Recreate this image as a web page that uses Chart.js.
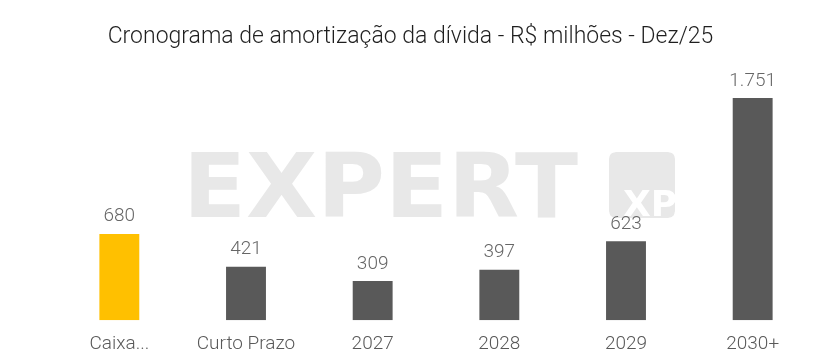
<!DOCTYPE html>
<html>
<head>
<meta charset="utf-8">
<script src="https://cdn.jsdelivr.net/npm/chart.js@4.4.1/dist/chart.umd.min.js"></script>
<style>
html,body{margin:0;padding:0;background:#fff;}
#wrap{width:836px;height:363px;position:relative;}
</style>
</head>
<body>
<div id="wrap"><canvas id="c" width="836" height="363"></canvas></div>
<script>
const categories = ["Caixa...", "Curto Prazo", "2027", "2028", "2029", "2030+"];
const amortization = [680, 421, 309, 397, 623, 1751];
const barColors = ["#FFC000", "#595959", "#595959", "#595959", "#595959", "#595959"];
const chartTitle = "Cronograma de amortização da dívida - R$ milhões - Dez/25";

const FONT = '"Roboto Light", Roboto';

function fmtBR(v) {
  return String(Math.round(v)).replace(/\B(?=(\d{3})+(?!\d))/g, ".");
}

const titlePlugin = {
  id: "customTitle",
  afterDraw(chart) {
    const ctx = chart.ctx;
    ctx.save();
    ctx.fillStyle = "#1f1f1f";
    ctx.font = '300 23px ' + FONT;
    ctx.textAlign = "center";
    ctx.textBaseline = "alphabetic";
    ctx.fillText(chartTitle, 410.5, 42.5);
    ctx.restore();
  }
};

const watermark = {
  id: "watermark",
  beforeDatasetsDraw(chart) {
    const ctx = chart.ctx;
    ctx.save();
    ctx.fillStyle = "#e8e8e8";
    ctx.font = 'bold 100px "DejaVu Sans"';
    ctx.textBaseline = "alphabetic";
    ctx.textAlign = "left";
    const w = ctx.measureText("EXPERT").width;
    ctx.translate(183, 217);
    ctx.scale(395 / w, 65 / 72.9);
    ctx.fillText("EXPERT", 0, 0);
    ctx.restore();
    // XP box
    ctx.save();
    ctx.fillStyle = "#e8e8e8";
    const x = 609, y = 152, s = 66, r = 7;
    ctx.beginPath();
    ctx.moveTo(x + r, y);
    ctx.lineTo(x + s - r, y);
    ctx.quadraticCurveTo(x + s, y, x + s, y + r);
    ctx.lineTo(x + s, y + s - r);
    ctx.quadraticCurveTo(x + s, y + s, x + s - r, y + s);
    ctx.lineTo(x + r, y + s);
    ctx.quadraticCurveTo(x, y + s, x, y + s - r);
    ctx.lineTo(x, y + r);
    ctx.quadraticCurveTo(x, y, x + r, y);
    ctx.closePath();
    ctx.clip();
    ctx.fill();
    ctx.fillStyle = "#ffffff";
    ctx.font = 'bold 36px "DejaVu Sans"';
    ctx.textAlign = "left";
    ctx.fillText("XP", 623, 216);
    ctx.restore();
  }
};

const valueLabels = {
  id: "valueLabels",
  afterDatasetsDraw(chart) {
    const ctx = chart.ctx;
    const meta = chart.getDatasetMeta(0);
    ctx.save();
    ctx.fillStyle = "#666666";
    ctx.font = '300 19px ' + FONT;
    ctx.textAlign = "center";
    ctx.textBaseline = "alphabetic";
    meta.data.forEach((bar, i) => {
      ctx.fillText(fmtBR(chart.data.datasets[0].data[i]), bar.x, bar.y - 12.5);
    });
    ctx.restore();
  }
};

new Chart(document.getElementById("c"), {
  type: "bar",
  data: {
    labels: categories,
    datasets: [{
      data: amortization,
      backgroundColor: barColors,
      borderWidth: 0,
      barPercentage: 0.315,
      categoryPercentage: 1.0
    }]
  },
  options: {
    responsive: false,
    animation: false,
    devicePixelRatio: 1,
    layout: { padding: { left: 56, right: 20, top: 66.5, bottom: -4 } },
    plugins: {
      legend: { display: false },
      tooltip: { enabled: false },
      title: { display: false }
    },
    scales: {
      x: {
        grid: { display: false, drawTicks: false, tickLength: 0 },
        border: { display: false },
        ticks: {
          color: "#595959",
          font: { family: FONT, size: 19, weight: "300" },
          padding: 12,
          maxRotation: 0,
          autoSkip: false
        }
      },
      y: {
        display: false,
        min: 0,
        max: 2000
      }
    }
  },
  plugins: [watermark, valueLabels, titlePlugin]
});
</script>
</body>
</html>
